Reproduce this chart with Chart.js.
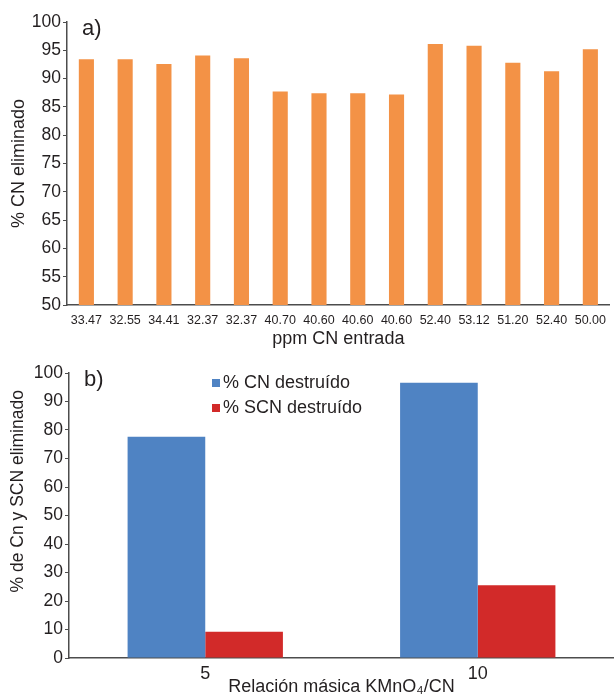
<!DOCTYPE html>
<html lang="es">
<head>
<meta charset="UTF-8">
<title>Eliminación de CN</title>
<script src="https://cdn.jsdelivr.net/npm/chart.js@4.4.1/dist/chart.umd.min.js"></script>
<style>
  html, body { margin: 0; padding: 0; background: #fff; }
  #boxA { position: absolute; left: 0; top: 0; }
  #boxB { position: absolute; left: 0; top: 350px; }
</style>
</head>
<body>
<div id="boxA"><canvas id="chartA" width="614" height="350"></canvas></div>
<div id="boxB"><canvas id="chartB" width="614" height="346"></canvas></div>
<script>
// panel a) -- inlet ppm vs % CN removed
const ppmLabels = ['33.47', '32.55', '34.41', '32.37', '32.37', '40.70', '40.60',
                   '40.60', '40.60', '52.40', '53.12', '51.20', '52.40', '50.00'];
const cnRemoved = [93.4, 93.4, 92.6, 94.1, 93.6, 87.7, 87.4, 87.4, 87.2, 96.1, 95.8, 92.8, 91.3, 95.2];

// panel b) -- KMnO4/CN ratio
const ratioLabels = ['5', '10'];
const cnDestroyed = [77.6, 96.6];
const scnDestroyed = [9.2, 25.5];

const ink = '#231f20';
const axisGrey = '#4d4d4d';
const font = 'Liberation Sans, Arial, sans-serif';

// draws the "a)" / "b)" tag, an optional rotated y title and an optional boxed legend
const annotate = {
    id: 'annotate',
    afterDraw(chart, args, opts) {
        const ctx = chart.ctx;
        const area = chart.chartArea;
        ctx.save();
        ctx.fillStyle = ink;
        ctx.font = '22px ' + font;
        ctx.textBaseline = 'alphabetic';
        ctx.fillText(opts.tag, area.left + 15, area.top + 13);

        if (opts.yTitle) {
            ctx.save();
            ctx.translate(opts.yTitleX, area.top + area.height * opts.yTitleAt);
            ctx.rotate(-Math.PI / 2);
            ctx.textAlign = 'center';
            ctx.textBaseline = 'middle';
            ctx.font = '17.5px ' + font;
            ctx.fillText(opts.yTitle, 0, 0);
            ctx.restore();
        }

        if (opts.legend) {
            ctx.font = '18px ' + font;
            ctx.textBaseline = 'middle';
            chart.data.datasets.forEach(function(ds, i) {
                const x = area.left + opts.legend.x;
                const y = area.top + opts.legend.y + i * opts.legend.gap;
                ctx.fillStyle = ds.backgroundColor;
                ctx.fillRect(x, y - 4, 8, 8);
                ctx.fillStyle = ink;
                ctx.fillText(ds.label, x + 11, y);
            });
        }
        ctx.restore();
    }
};

function yAxis(min, max, step, width) {
    return {
        min: min,
        max: max,
        ticks: { stepSize: step, color: ink, font: { family: font, size: 17.5 }, padding: 2 },
        grid: { drawOnChartArea: false, drawTicks: true, tickLength: 4, color: axisGrey },
        border: { color: axisGrey, width: 1.5 },
        afterFit: function(scale) { scale.width = width; }
    };
}

new Chart('chartA', {
    type: 'bar',
    data: {
        labels: ppmLabels,
        datasets: [{
            label: '% CN eliminado',
            data: cnRemoved,
            backgroundColor: '#f39246',
            categoryPercentage: 1,
            barPercentage: 0.39
        }]
    },
    options: {
        responsive: false,
        animation: false,
        layout: { padding: { top: 22, right: 0 } },
        plugins: {
            legend: { display: false },
            tooltip: { enabled: false },
            annotate: { tag: 'a)' }
        },
        scales: {
            x: {
                ticks: { color: ink, font: { family: font, size: 12.5 }, padding: 8, maxRotation: 0, autoSkip: false },
                grid: { drawOnChartArea: false, drawTicks: false },
                border: { color: axisGrey, width: 1.5 },
                title: { display: true, text: 'ppm CN entrada', color: ink,
                         font: { family: font, size: 18 }, padding: 0 },
                afterFit: function(scale) { scale.height = 45; }
            },
            y: Object.assign(yAxis(50, 100, 5, 67), {
                title: { display: true, text: '% CN eliminado', color: ink,
                         font: { family: font, size: 18 }, padding: { top: 8, bottom: 0 } }
            })
        }
    },
    plugins: [annotate]
});

new Chart('chartB', {
    type: 'bar',
    data: {
        labels: ratioLabels,
        datasets: [{
            label: '% CN destruído',
            data: cnDestroyed,
            backgroundColor: '#4f83c3',
            categoryPercentage: 0.57,
            barPercentage: 1
        }, {
            label: '% SCN destruído',
            data: scnDestroyed,
            backgroundColor: '#d22a29',
            categoryPercentage: 0.57,
            barPercentage: 1
        }]
    },
    options: {
        responsive: false,
        animation: false,
        layout: { padding: { top: 23, right: 0 } },
        plugins: {
            legend: { display: false },
            tooltip: { enabled: false },
            annotate: {
                tag: 'b)',
                yTitle: '% de Cn y SCN eliminado',
                yTitleX: 18,
                yTitleAt: 0.415,
                legend: { x: 143, y: 10, gap: 25 }
            }
        },
        scales: {
            x: {
                ticks: { color: ink, font: { family: font, size: 18 }, padding: 5 },
                grid: { drawOnChartArea: false, drawTicks: false },
                border: { color: axisGrey, width: 1.5 },
                title: { display: true, text: 'Relación másica KMnO₄/CN', color: ink,
                         font: { family: font, size: 18, lineHeight: 1 }, padding: 0 },
                afterFit: function(scale) { scale.height = 38; }
            },
            y: yAxis(0, 100, 10, 69)
        }
    },
    plugins: [annotate]
});
</script>
</body>
</html>
